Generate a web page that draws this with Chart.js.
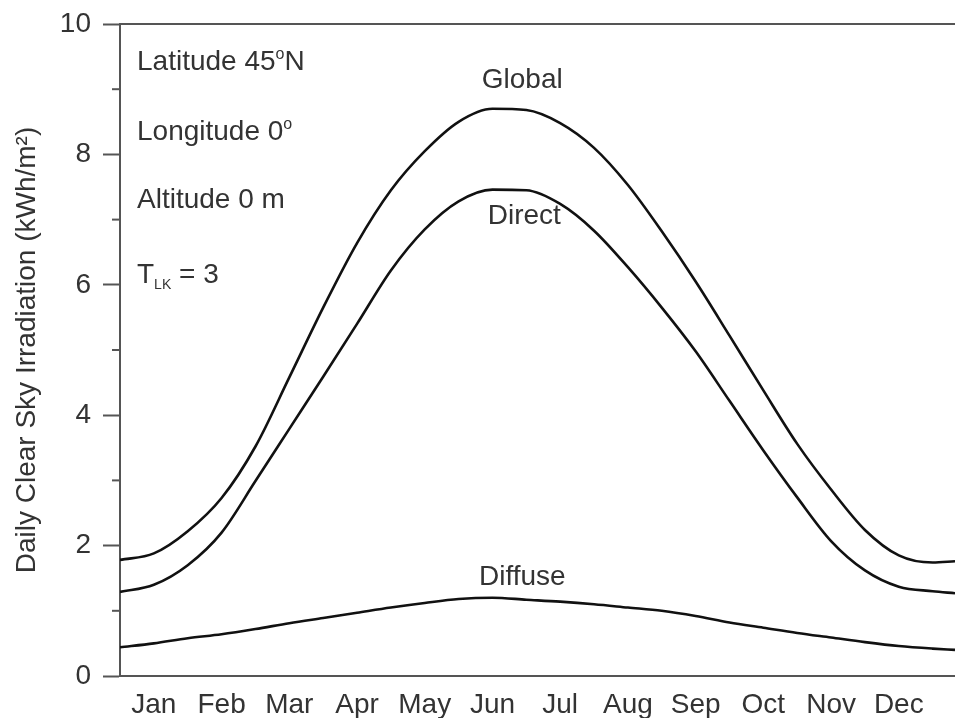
<!DOCTYPE html>
<html>
<head>
<meta charset="utf-8">
<script src="https://cdn.jsdelivr.net/npm/chart.js@4/dist/chart.umd.min.js"></script>
<style>
  html,body{margin:0;padding:0;background:#fff;}
  #wrap{width:955px;height:718px;}
</style>
</head>
<body>
<div id="wrap"><canvas id="c" width="955" height="718"></canvas></div>
<script>
'use strict';

/* ── data (x in months from 1 Jan) ── */
var MONTHS=['Jan','Feb','Mar','Apr','May','Jun','Jul','Aug','Sep','Oct','Nov','Dec'];
var MONTH_POS=[0.5,1.5,2.5,3.5,4.5,5.5,6.5,7.5,8.5,9.5,10.5,11.5];
var X_POS=[0,0.5,1,1.5,2,2.5,3,3.5,4,4.5,5,5.5,6,6.5,7,7.5,8,8.5,9,9.5,10,10.5,11,11.5,12,12.33];
var GLOBAL=[1.78,1.88,2.22,2.73,3.52,4.58,5.65,6.64,7.45,8.05,8.50,8.70,8.68,8.48,8.10,7.53,6.82,6.05,5.22,4.38,3.56,2.86,2.24,1.85,1.74,1.76];
var DIRECT=[1.29,1.40,1.70,2.20,2.99,3.79,4.59,5.40,6.22,6.85,7.28,7.46,7.45,7.24,6.83,6.27,5.65,4.98,4.22,3.46,2.74,2.07,1.62,1.37,1.30,1.27];
var DIFFUSE=[0.44,0.50,0.58,0.64,0.72,0.81,0.89,0.97,1.05,1.12,1.18,1.20,1.17,1.14,1.10,1.05,1.00,0.92,0.82,0.74,0.66,0.59,0.52,0.46,0.42,0.40];
var Y_MINOR=[1,3,5,7,9];

var FONT='"Liberation Sans", Arial, sans-serif';
var FS=28;
var TXT='#333';
var AXIS='#555';

function pts(vals){
  return vals.map(function(v,i){return{x:X_POS[i],y:v};});
}
function ds(vals){
  return{data:pts(vals),borderColor:'#111',borderWidth:2.6,pointRadius:0,fill:false,cubicInterpolationMode:'monotone'};
}

// draw a run of text pieces [text,size,dy] starting at x
function drawRich(ctx,x,y,parts){
  ctx.textBaseline='alphabetic';ctx.textAlign='left';
  for(var i=0;i<parts.length;i++){
    var p=parts[i];
    ctx.font=p[1]+'px '+FONT;
    ctx.fillText(p[0],x,y+(p[2]||0));
    x+=ctx.measureText(p[0]).width;
  }
}

var decor={
  id:'decor',
  afterDraw:function(chart){
    var ctx=chart.ctx,a=chart.chartArea,ys=chart.scales.y,xs=chart.scales.x;
    ctx.save();
    // top frame line
    ctx.strokeStyle=AXIS;ctx.lineWidth=2;
    ctx.beginPath();ctx.moveTo(a.left-1,a.top);ctx.lineTo(a.right,a.top);ctx.stroke();
    // minor y ticks
    for(var i=0;i<Y_MINOR.length;i++){
      var py=ys.getPixelForValue(Y_MINOR[i]);
      ctx.beginPath();ctx.moveTo(a.left-8,py);ctx.lineTo(a.left,py);ctx.stroke();
    }
    ctx.fillStyle=TXT;
    // parameter block
    var lx=a.left+17;
    drawRich(ctx,lx,70,[['Latitude 45',FS],['o',16,-11],['N',FS]]);
    drawRich(ctx,lx,140,[['Longitude 0',FS],['o',16,-11]]);
    drawRich(ctx,lx,208,[['Altitude 0 m',FS]]);
    drawRich(ctx,lx,283,[['T',FS],['LK',14,6],[' = 3',FS]]);
    // curve labels
    ctx.font=FS+'px '+FONT;ctx.textAlign='center';ctx.textBaseline='middle';
    ctx.fillText('Global',xs.getPixelForValue(5.94),ys.getPixelForValue(9.14));
    ctx.fillText('Direct',xs.getPixelForValue(5.97),ys.getPixelForValue(7.05));
    ctx.fillText('Diffuse',xs.getPixelForValue(5.94),ys.getPixelForValue(1.52));
    ctx.restore();
  }
};

new Chart(document.getElementById('c'),{
  type:'line',
  data:{datasets:[ds(GLOBAL),ds(DIRECT),ds(DIFFUSE)]},
  options:{
    responsive:false,animation:false,
    layout:{padding:{top:24,right:0,left:10,bottom:0}},
    plugins:{legend:{display:false},tooltip:{enabled:false}},
    scales:{
      x:{
        type:'linear',min:0,max:12.33,
        afterBuildTicks:function(s){s.ticks=MONTH_POS.map(function(v){return{value:v};});},
        afterFit:function(s){s.height=42;s.paddingLeft=0;s.paddingRight=0;},
        grid:{display:false},
        border:{display:true,color:AXIS,width:2},
        ticks:{color:TXT,font:{family:FONT,size:FS},padding:4,maxRotation:0,autoSkip:false,
          callback:function(v){var i=MONTH_POS.indexOf(v);return i>=0?MONTHS[i]:'';}}
      },
      y:{
        min:0,max:10,
        afterFit:function(s){s.width=110;s.paddingTop=0;s.paddingBottom=0;},
        grid:{drawOnChartArea:false,drawTicks:true,tickLength:17,tickColor:AXIS,tickWidth:2},
        border:{display:true,color:AXIS,width:2},
        ticks:{stepSize:2,color:TXT,font:{family:FONT,size:FS},padding:12},
        title:{display:true,text:'Daily Clear Sky Irradiation (kWh/m²)',color:TXT,font:{family:FONT,size:28},padding:{top:0,bottom:0}}
      }
    }
  },
  plugins:[decor]
});
</script>
</body>
</html>
